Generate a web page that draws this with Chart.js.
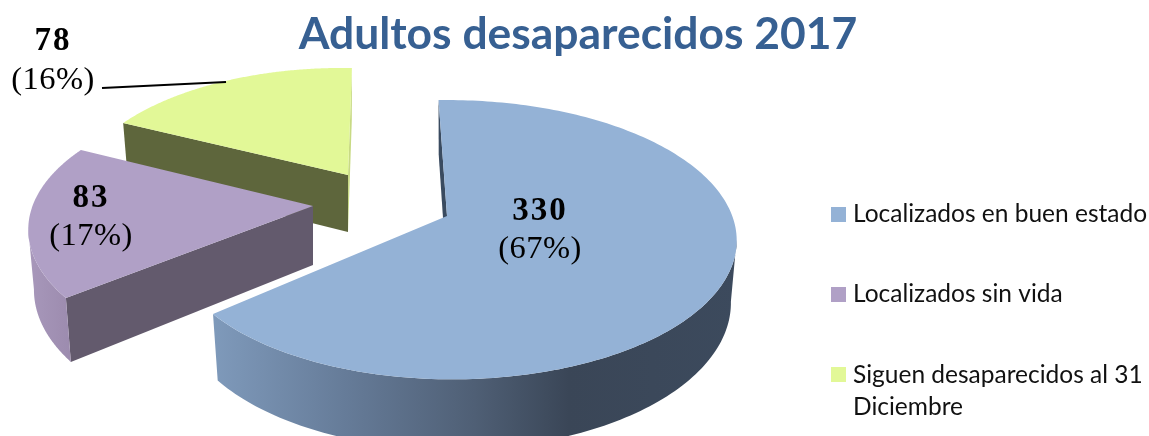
<!DOCTYPE html>
<html lang="es">
<head>
<meta charset="utf-8">
<title>Adultos desaparecidos 2017</title>
<style>html,body{margin:0;padding:0;background:#fff;overflow:hidden}canvas{display:block}</style>
<script src="https://cdn.jsdelivr.net/npm/chart.js@4"></script>
</head>
<body>
<canvas id="c" width="1149" height="436"></canvas>
<script>
const categories = ["Localizados en buen estado", "Localizados sin vida", "Siguen desaparecidos al 31 Diciembre"];
const values = [330, 83, 78];
const percents = ["(67%)", "(17%)", "(16%)"];
const titleText = "Adultos desaparecidos 2017";
const topColors = ["#94b2d6", "#b0a0c6", "#e2f897"];

const tips = [[447,216],[313,206],[348,175]];
const depths = [61,59,57];
const scaleX = [1,1.005,1];
const P = 0.177, RX = 285.5, RY = 136.5, SHRINK = 0.98, DEPTH_W = 0.7;
// perspective correction of each slice's edge angle (degrees) and radius, start / end of the slice
const angleAdj = [[-2,-13.2],[-10,-5.9],[-7,1]];
const radiusAdj = [[1,0.967],[0.977,0.978],[0.938,0.91]];
const labelPos = [[540,220,258],[91,207,245],[53,50,89]];
const legendPos = [[831,222],[831,302],[831,382]];

function project(i, rad, f){
  const a = angleAdj[i], ra = radiusAdj[i];
  const t = (rad*180/Math.PI + a[0] + (a[1]-a[0])*f)*Math.PI/180;
  const blend = i===0 ? Math.pow(f,4) : f;
  const k = ra[0] + (ra[1]-ra[0])*blend;
  const u = Math.sin(t)*k, v = -Math.cos(t)*k;
  const w = 1/(1-P*v);
  return [tips[i][0]+RX*scaleX[i]*u*w, tips[i][1]+RY*v*w, w];
}
function wallStyle(ctx,i,kind){
  if(kind==='arc'){
    if(i===0){
      const g = ctx.createLinearGradient(212,0,737,0);
      g.addColorStop(0,'#7f9abb');
      g.addColorStop(0.25,'#667c99');
      g.addColorStop(0.5,'#4f5f75');
      g.addColorStop(0.68,'#3a4657');
      g.addColorStop(1,'#3c4a5d');
      return g;
    }
    if(i===1){
      const g = ctx.createLinearGradient(27,0,75,0);
      g.addColorStop(0,'#a898bb');
      g.addColorStop(1,'#9b8aad');
      return g;
    }
    return '#d0e58a';
  }
  if(kind==='start') return ['#3a4b60','#635a6d','#5e663c'][i];
  return ['#3a4b60','#635a6d','#c8da84'][i];
}
function fillWall(ctx,i,run,style){
  const tip = tips[i], d = depths[i];
  ctx.fillStyle=style;
  ctx.beginPath();
  run.forEach((p,j)=> j?ctx.lineTo(p[0],p[1]):ctx.moveTo(p[0],p[1]));
  for(let j=run.length-1;j>=0;j--){
    const p = run[j];
    ctx.lineTo(tip[0]+(p[0]-tip[0])*SHRINK, p[1]+d*(1+DEPTH_W*(p[2]-1)));
  }
  ctx.closePath();ctx.fill();
}
const pie3d = {
  id:'pie3d',
  beforeDatasetsDraw(chart){
    const ctx = chart.ctx, arcs = chart.getDatasetMeta(0).data;
    [2,1,0].forEach(i=>{
      const arc = arcs[i];
      const s = arc.startAngle+Math.PI/2, e = arc.endAngle+Math.PI/2;
      const n = 200, pts = [];
      for(let j=0;j<=n;j++) pts.push(project(i,s+(e-s)*j/n,j/n));
      const tip = [tips[i][0],tips[i][1],1], end = pts[n];
      if(end[0]>tip[0]) fillWall(ctx,i,[end,tip],wallStyle(ctx,i,'end'));
      if(pts[0][0]<tip[0]) fillWall(ctx,i,[tip,pts[0]],wallStyle(ctx,i,'start'));
      let run=[];
      for(let j=0;j<n;j++){
        if(pts[j+1][0]<pts[j][0]){ if(!run.length) run.push(pts[j]); run.push(pts[j+1]); }
        else if(run.length){ fillWall(ctx,i,run,wallStyle(ctx,i,'arc')); run=[]; }
      }
      if(run.length) fillWall(ctx,i,run,wallStyle(ctx,i,'arc'));
      ctx.fillStyle = arc.options.backgroundColor;
      ctx.beginPath();ctx.moveTo(tip[0],tip[1]);
      pts.forEach(p=>ctx.lineTo(p[0],p[1]));
      ctx.closePath();ctx.fill();
    });
    return false;
  },
  afterDraw(chart){
    const ctx = chart.ctx;
    ctx.strokeStyle='#000';ctx.lineWidth=2;
    ctx.beginPath();ctx.moveTo(102,88);ctx.lineTo(226,82);ctx.stroke();
    ctx.textAlign='center';ctx.textBaseline='alphabetic';ctx.fillStyle='#000';
    values.forEach((v,i)=>{
      const [x,y1,y2]=labelPos[i];
      ctx.font='bold 33px "Liberation Serif"';ctx.letterSpacing='2px';ctx.fillText(String(v),x,y1);
      ctx.font='32.5px "Liberation Serif"';ctx.letterSpacing='0.5px';ctx.fillText(percents[i],x,y2);
    });
    ctx.letterSpacing='0px';
    ctx.textAlign='left';ctx.font='24.5px Lato';
    categories.forEach((c,i)=>{
      const [x,y]=legendPos[i];
      ctx.fillStyle=topColors[i];ctx.fillRect(x,y-15,15,15);
      ctx.fillStyle='#111';
      if(i===2){
        ctx.fillText("Siguen desaparecidos al 31",x+22,y+1);
        ctx.fillText("Diciembre",x+22,y+33);
      } else ctx.fillText(c,x+22,y);
    });
  }
};
new Chart(document.getElementById('c'),{
  type:'pie',
  data:{labels:categories,datasets:[{data:values,backgroundColor:topColors,borderWidth:0}]},
  options:{
    responsive:false,animation:false,
    layout:{padding:{left:7}},
    plugins:{
      legend:{display:false},tooltip:{enabled:false},
      title:{display:true,text:titleText,color:'#376092',fullSize:false,
        font:{family:'Lato',size:44.4,weight:'bold'},padding:{top:8,bottom:0}}
    }
  },
  plugins:[pie3d]
});
</script>
</body>
</html>
